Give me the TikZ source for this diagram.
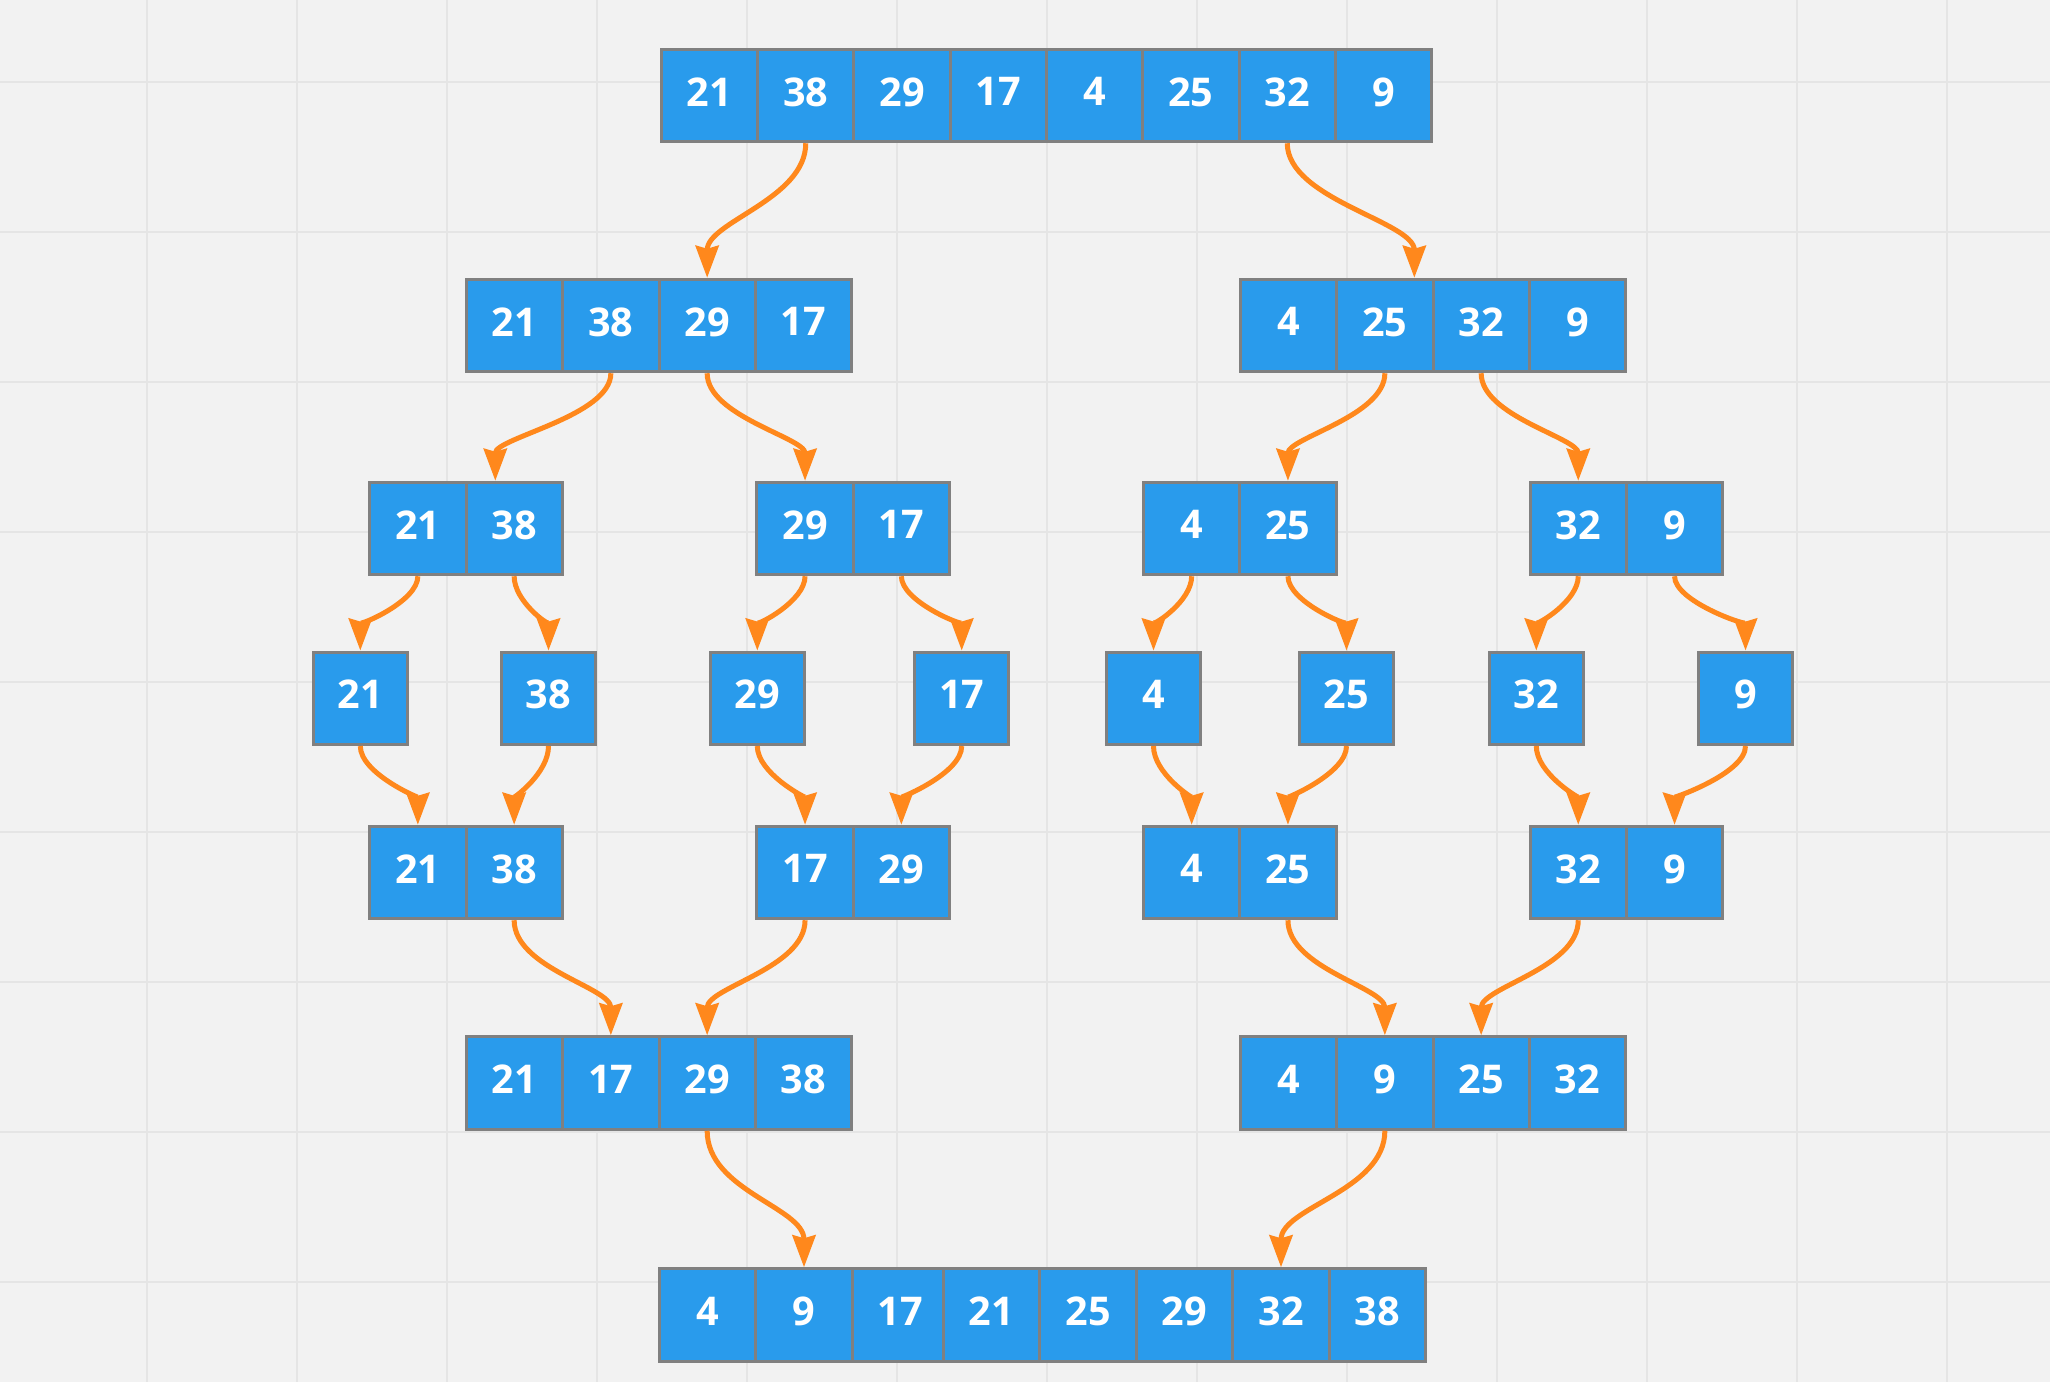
\documentclass[tikz,border=0pt]{standalone}
\usepackage{fontspec}
\newfontfamily\cellfont{Open Sans}
\usetikzlibrary{arrows.meta,calc}
\definecolor{bgc}{RGB}{242,242,242}
\definecolor{gridc}{RGB}{229,229,229}
\definecolor{cellblue}{RGB}{41,155,236}
\definecolor{cellborder}{RGB}{128,128,128}
\definecolor{arroworange}{RGB}{255,136,28}
\begin{document}
\begin{tikzpicture}[x=0.5pt,y=-0.5pt,
  cell/.style={rectangle, draw=cellborder, fill=cellblue, line width=1.5pt,
    minimum width=48.15pt, minimum height=46.25pt, inner sep=0pt, text=white,
    font=\cellfont\bfseries\fontsize{19.8}{24}\selectfont, text depth=3.7pt},
  single/.style={cell, minimum width=46.75pt},
  conn/.style={draw=arroworange, line width=2.5pt,
    -{Stealth[length=16pt,width=11.5pt,inset=1.5pt]}}]
\useasboundingbox (0,0) rectangle (2050,1382);
\fill[bgc] (0,0) rectangle (2050,1382);
\foreach \gx in {147,297,...,1947} \draw[gridc, line width=1pt] (\gx,0) -- (\gx,1382);
\foreach \gy in {82,232,...,1282} \draw[gridc, line width=1pt] (0,\gy) -- (2050,\gy);

% Row 1
\foreach \v [count=\i] in {21,38,29,17,4,25,32,9}
  \node[cell] (r1c\i) at ({709.45+(\i-1)*96.3},95.5) {\v};
% Row 2
\foreach \v [count=\i] in {21,38,29,17}
  \node[cell] (r2a\i) at ({514.55+(\i-1)*96.3},325.5) {\v};
\foreach \v [count=\i] in {4,25,32,9}
  \node[cell] (r2b\i) at ({1288.55+(\i-1)*96.3},325.5) {\v};
% Row 3
\node[cell] (r3a1) at (417.85,528.5) {21};
\node[cell] (r3a2) at (514.15,528.5) {38};
\node[cell] (r3b1) at (805.05,528.5) {29};
\node[cell] (r3b2) at (901.35,528.5) {17};
\node[cell] (r3c1) at (1191.65,528.5) {4};
\node[cell] (r3c2) at (1287.95,528.5) {25};
\node[cell] (r3d1) at (1578.25,528.5) {32};
\node[cell] (r3d2) at (1674.55,528.5) {9};
% Row 4
\node[single] (r4a) at (360.3,698.3) {21};
\node[single] (r4b) at (548.5,698.3) {38};
\node[single] (r4c) at (757.3,698.3) {29};
\node[single] (r4d) at (961.7,698.3) {17};
\node[single] (r4e) at (1153.5,698.3) {4};
\node[single] (r4f) at (1346.5,698.3) {25};
\node[single] (r4g) at (1536.3,698.3) {32};
\node[single] (r4h) at (1745.5,698.3) {9};
% Row 5
\node[cell] (r5a1) at (417.85,872.5) {21};
\node[cell] (r5a2) at (514.15,872.5) {38};
\node[cell] (r5b1) at (805.05,872.5) {17};
\node[cell] (r5b2) at (901.35,872.5) {29};
\node[cell] (r5c1) at (1191.65,872.5) {4};
\node[cell] (r5c2) at (1287.95,872.5) {25};
\node[cell] (r5d1) at (1578.25,872.5) {32};
\node[cell] (r5d2) at (1674.55,872.5) {9};
% Row 6
\foreach \v [count=\i] in {21,17,29,38}
  \node[cell] (r6a\i) at ({514.55+(\i-1)*96.3},1083) {\v};
\foreach \v [count=\i] in {4,9,25,32}
  \node[cell] (r6b\i) at ({1288.55+(\i-1)*96.3},1083) {\v};
% Row 7
\foreach \v/\px [count=\i] in {4/707.5,9/804,17/900.5,21/991.5,25/1088,29/1184.5,32/1281,38/1377.5}
  \node[cell] (r7c\i) at (\px,1315) {\v};

% Connectors
\coordinate (t1) at ($(r2b2.north)+(29.5,0)$);
\coordinate (t2) at ($(r3a2.north)+(-18.85,0)$);
\draw[conn] (r1c2.south) .. controls +(0,56) and +(0,-56) .. (r2a3.north);
\draw[conn] (r1c7.south) .. controls +(0,56) and +(0,-56) .. (t1);

\draw[conn] (r2a2.south) .. controls +(0,43) and +(0,-43) .. (t2);
\draw[conn] (r2a3.south) .. controls +(0,43) and +(0,-43) .. (r3b1.north);
\draw[conn] (r2b2.south) .. controls +(0,43) and +(0,-43) .. (r3c2.north);
\draw[conn] (r2b3.south) .. controls +(0,43) and +(0,-43) .. (r3d1.north);

\foreach \s/\t in {r3a1/r4a,r3a2/r4b,r3b1/r4c,r3b2/r4d,r3c1/r4e,r3c2/r4f,r3d1/r4g,r3d2/r4h}
  \draw[conn] (\s.south) .. controls +(0,25) and +(0,-25) .. (\t.north);

\foreach \s/\t in {r4a/r5a1,r4b/r5a2,r4c/r5b1,r4d/r5b2,r4e/r5c1,r4f/r5c2,r4g/r5d1,r4h/r5d2}
  \draw[conn] (\s.south) .. controls +(0,27) and +(0,-27) .. (\t.north);

\foreach \s/\t in {r5a2/r6a2,r5b1/r6a3,r5c2/r6b2,r5d1/r6b3}
  \draw[conn] (\s.south) .. controls +(0,48) and +(0,-48) .. (\t.north);

\draw[conn] (r6a3.south) .. controls +(0,60) and +(0,-60) .. (r7c2.north);
\draw[conn] (r6b2.south) .. controls +(0,60) and +(0,-60) .. (r7c7.north);
\end{tikzpicture}
\end{document}
